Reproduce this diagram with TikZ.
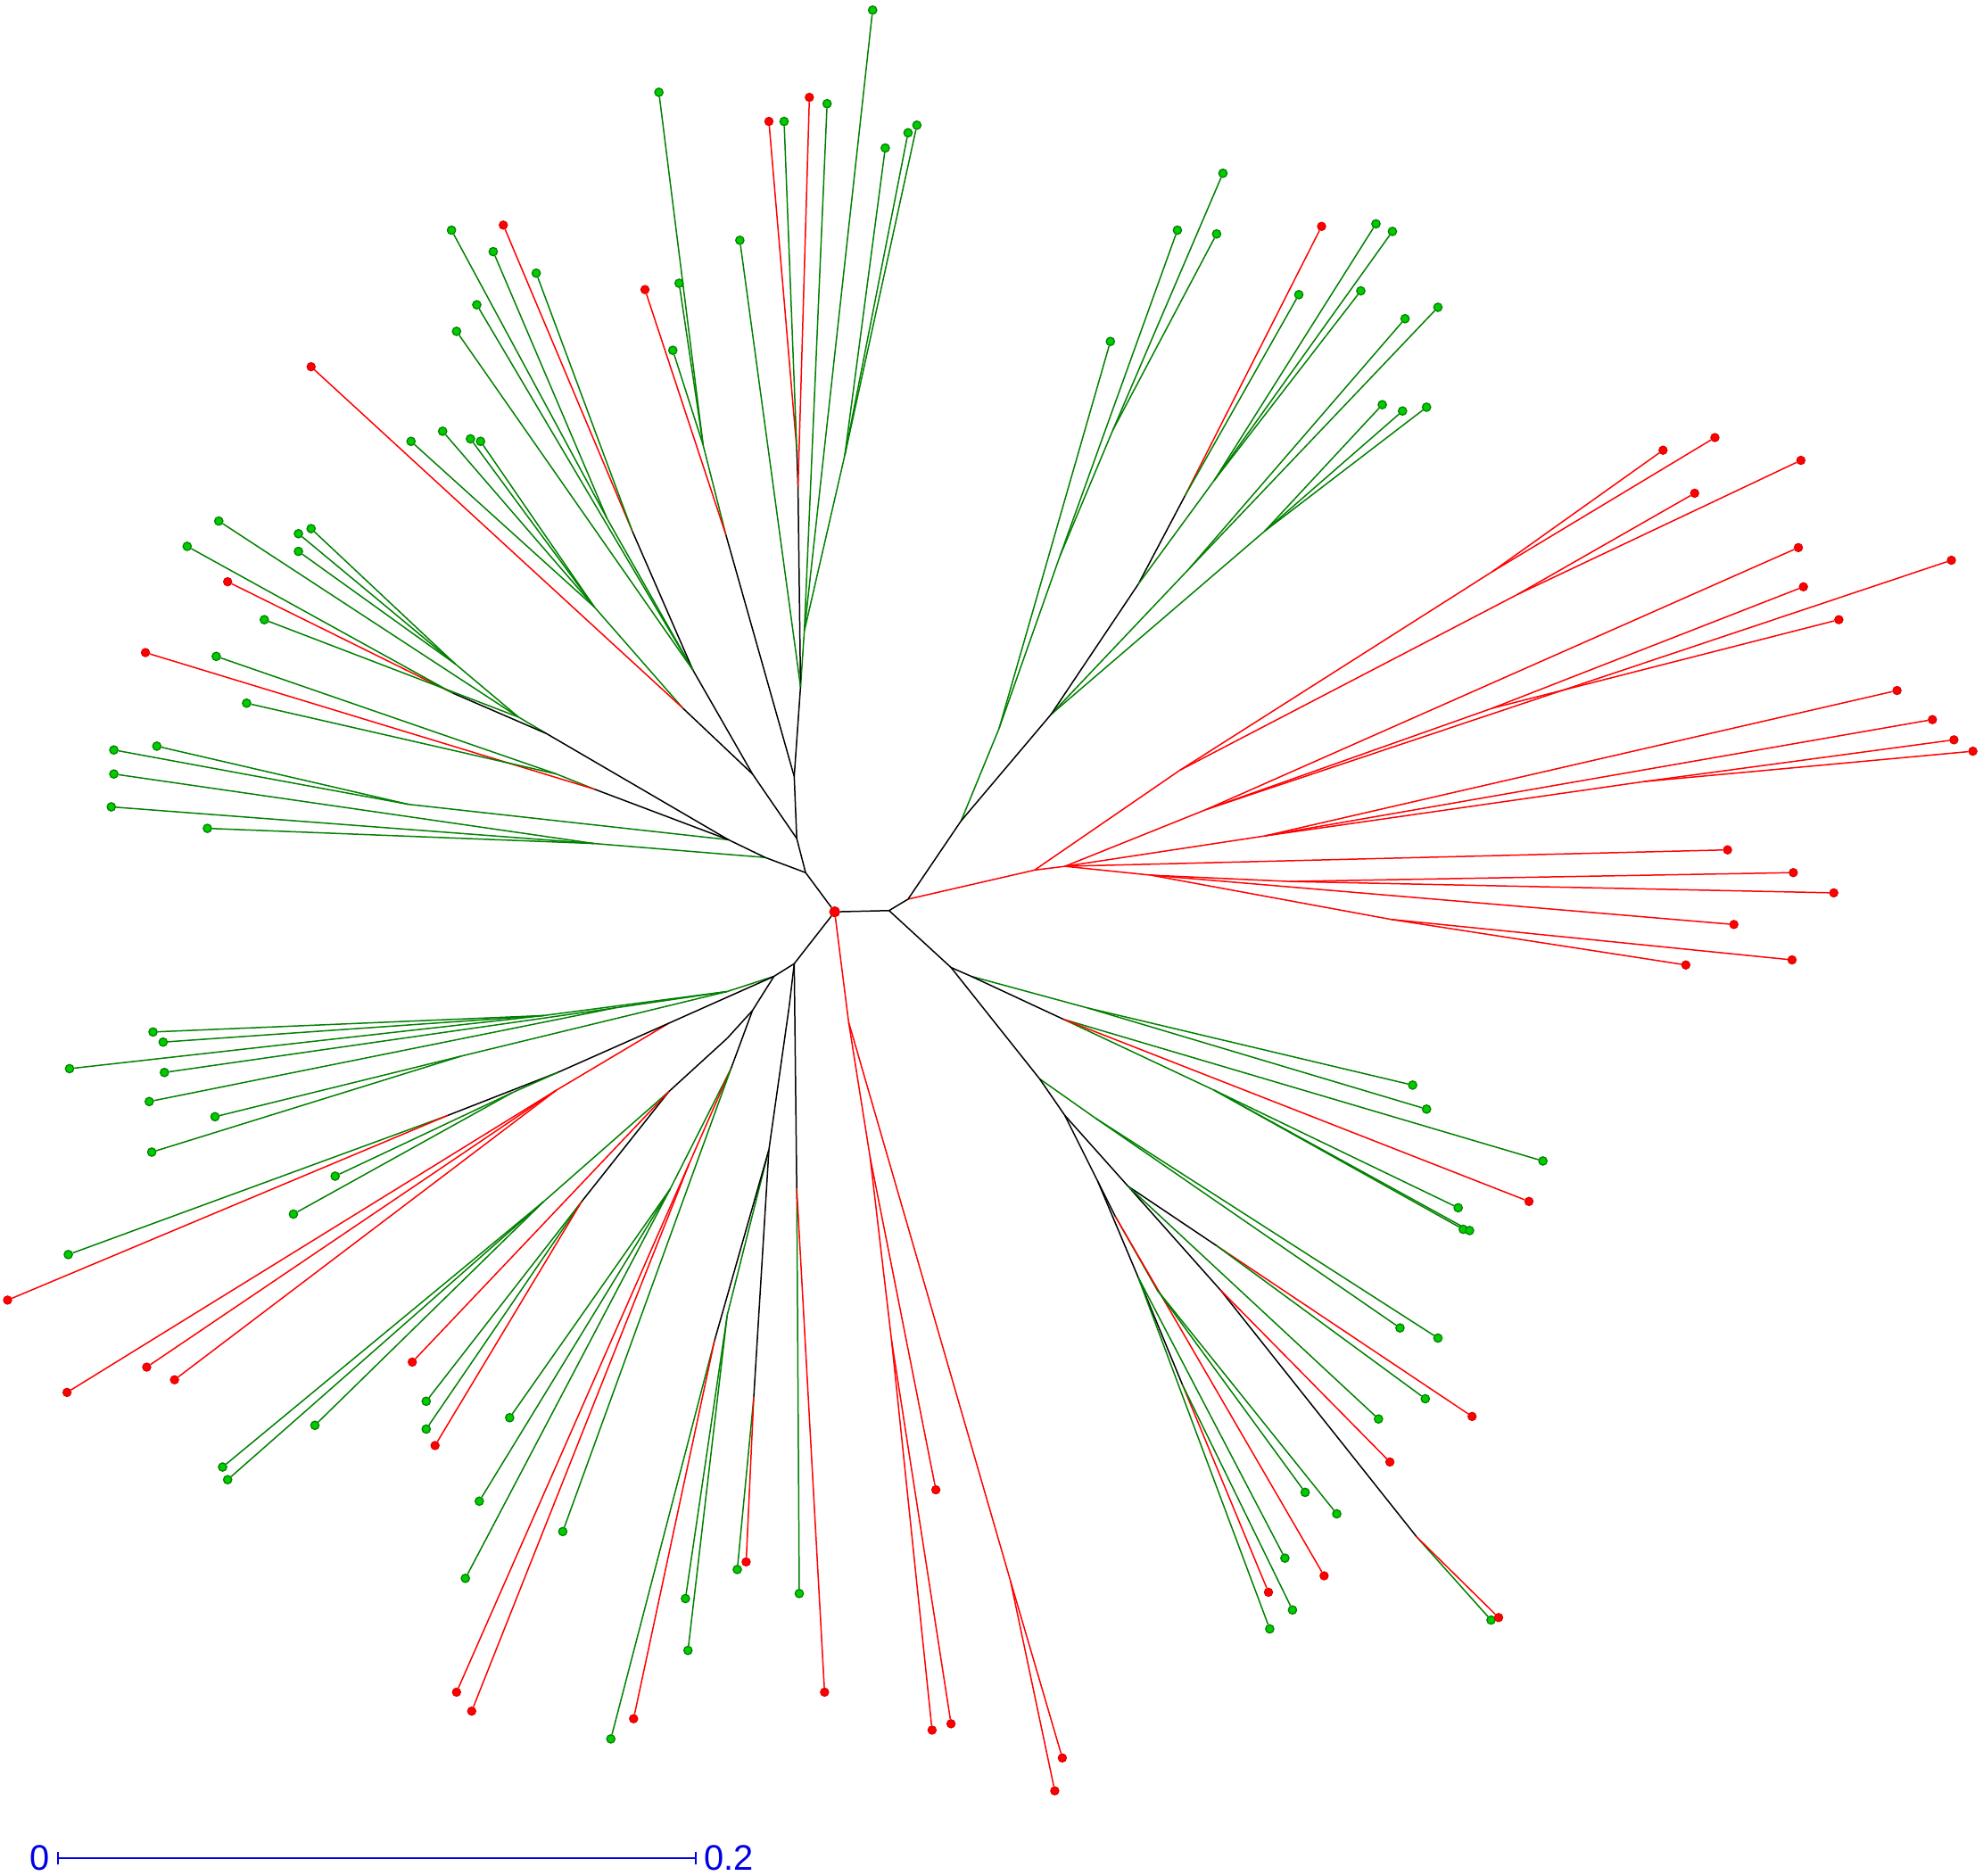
\documentclass[tikz,border=0pt]{standalone}
\usepackage{fontspec}
\setmainfont{Liberation Sans}
\definecolor{lg}{RGB}{0,128,0}
\definecolor{dg}{RGB}{0,204,0}
\definecolor{rr}{RGB}{255,0,0}
\definecolor{sb}{RGB}{0,0,230}
\pgfdeclarelayer{bg}
\pgfsetlayers{bg,main}
\tikzset{
 lineb/.style={draw=black,line width=0.3pt},
 lineg/.style={draw=lg,line width=0.3pt},
 liner/.style={draw=rr,line width=0.3pt},
 dotg/.style={circle,fill=dg,draw=lg,line width=0.25pt,inner sep=0pt,minimum size=0.66mm},
 dotr/.style={circle,fill=rr,draw=rr!85!black,line width=0.2pt,inner sep=0pt,minimum size=0.66mm},
 sbar/.style={draw=sb,line width=0.35pt},
 sbtext/.style={text=sb,font=\fontsize{8}{9}\selectfont,inner sep=0pt},
}
\begin{document}
\begin{tikzpicture}[x=0.1mm,y=-0.1mm]
\useasboundingbox (0,0) rectangle (1568,1483);
\foreach \n/\x/\y in {C1/703/720, C2/718/711, C3/752/765, UL/637/690, DL/628/762,
 R1/818/688, A1/933/609, A2/1180/452, A3/1200/470, R2/842/685, B1/954/640, B2/1180/560,
 Cr1/1000/661, Cr2/1300/618, E1/910/692, D1/1020/697, E2/1100/727,
 G1/760/649, G2/790/576, G3/838/440, G4/880/340, G5/831/565, G6/940/450, G7/1000/420,
 G8/900/462, G9/937/392, G10/960/380,
 L1/768/772, L1a/860/797, L2/841/806, L2b/960/862, L3/822/853, L3a/866/884, L4/842/882,
 L6/892/938, L6a/962/985, L9/965/1020, L7/1120/1215, L5/868/934, L11/882/962, L10/915/1020,
 L12/900/1010, L12a/935/1095,
 BR1/671/808, Bn1/799/1250, Bn2/688/915, Bn3/705/1060,
 UL1/630/663, T0/628/614, T1/574/423, T1a/556/352, T2/633/543, T3/636/499, T3a/668/360,
 T4/631/385, T4a/630/355,
 UL2/595/612, UL2a/548/530, UL2d/480/410, UL2e/500/420, UL2b/540/560, UL2c/470/480,
 Lf0/605/678, Lf1/470/667, Lf1b/323/636, Lf2/576/664, Lf3/470/624, Lf3a/440/612,
 Lf4/432/580, Lf4a/410/567, Lf4b/360/525, Lf5/358/548,
 DL1/612/772, W0/575/784, W1/430/803, W2/365/835, W3/486/797, X0/529/809, Xr1/440/862, X1/441/848,
 X2/354/882, X3/405/864,
 DL2/595/799, Y1/575/821, Y2/529/863, Y4/430/950, Y5/460/950, Y6/578/845, Y7/530/940, Y8/545/920,
 DZ0/624/796, DZ3/608/909, DZ2/596/1105, DZ4/575/1040, DZ5/565/1060, DZ1/630/940}
 \coordinate (\n) at (\x,\y);
\node[dotr,minimum size=0.8mm] (R) at (660,721) {};
\def\leaves{a1/A2/1315/356/r, a2/A2/1356/346/r, a3/A3/1424/364/r, a4/A3/1340/390/r,
 a5/B1/1422/433/r, a6/B1/1543/443/r, a7/B2/1426/464/r, a8/B2/1454/490/r,
 a9/Cr1/1500/546/r, a10/Cr1/1528/569/r, a11/Cr2/1545/585/r, a12/Cr2/1560/594/r,
 a13/R2/1366/672/r, a14/D1/1418/690/r, a15/D1/1450/706/r, a16/E1/1371/731/r, a17/E2/1333/763/r, a18/E2/1417/759/r,
 b1/G2/878/270/g, b2/G3/931/182/g, b3/G4/962/185/g, b4/G4/967/137/g,
 b5/G6/1137/243/g, b6/G6/1111/252/g, b7/G7/1093/320/g, b8/G7/1109/325/g, b9/G7/1128/322/g,
 b10/G9/1045/179/r, b11/G9/1027/233/g, b12/G10/1088/177/g, b13/G10/1101/183/g, b14/G10/1076/230/g,
 c1/L1a/1117/858/g, c2/L1a/1128/877/g, c3/L2/1220/918/g, c4/L2/1209/950/r, c5/L2b/1153/955/g, c6/L2b/1157/972/g, c7/L2b/1162/973/g,
 c8/L3a/1107/1050/g, c9/L3a/1137/1058/g, c10/L6a/1164/1120/r, c11/L6a/1127/1106/g, c12/L6/1090/1122/g,
 c13/L9/1099/1156/r, c14/L7/1179/1281/g, c15/L7/1185/1279/r,
 c16/L11/1047/1246/r, c17/L10/1032/1180/g, c18/L10/1057/1197/g, c19/L12/1016/1232/g, c20/L12/1004/1288/g,
 c21/L12a/1003/1259/r, c22/L12a/1022/1273/g,
 d1/Bn1/840/1390/r, d2/Bn1/834/1416/r, d3/Bn2/740/1178/r, d4/Bn3/752/1363/r, d5/Bn3/737/1368/r,
 e1/T1/510/229/r, e2/T1a/521/73/g, e3/T1a/537/224/g, e4/T1a/532/277/g, e5/T2/585/190/g, e6/T3/654/82/g,
 e7/T3/690/8/g, e8/T3a/700/117/g, e9/T3a/718/105/g, e10/T3a/725/99/g, e11/T4/640/77/r, e12/T4a/608/96/r, e13/T4a/620/96/g,
 f1/UL2d/357/182/g, f2/UL2d/390/199/g, f3/UL2a/377/241/g, f4/UL2a/361/262/g, f5/UL2e/398/178/r, f6/UL2e/424/216/g,
 f7/UL2b/246/290/r, f8/UL2c/325/349/g, f9/UL2c/350/341/g, f10/UL2c/372/347/g, f11/UL2c/380/349/g,
 h1/Lf1/88/638/g, h2/Lf1/164/655/g, h3/Lf1/90/612/g, h4/Lf1b/90/593/g, h5/Lf1b/124/590/g, h6/Lf3/115/516/r,
 h7/Lf3a/171/519/g, h8/Lf3a/195/556/g, h9/Lf5/180/460/r, h10/Lf4a/173/412/g, h11/Lf5/148/432/g, h12/Lf4a/209/490/g,
 h13/Lf4b/246/418/g, h14/Lf4b/236/422/g, h15/Lf4b/236/436/g,
 k1/W1/121/816/g, k2/W1/129/824/g, k3/W1/55/845/g, k4/W3/130/848/g, k5/W3/118/871/g, k6/W2/170/883/g, k7/W2/120/911/g,
 k8/X3/232/960/g, k9/X3/265/930/g, k10/X2/54/992/g, k11/X2/6/1028/r, k12/Xr1/53/1101/r, k13/Xr1/116/1081/r, k14/Xr1/138/1091/r,
 m1/Y2/326/1077/r, m2/Y5/337/1108/g, m3/Y5/337/1130/g, m4/Y5/344/1143/r, m5/Y4/249/1127/g, m6/Y4/176/1160/g, m7/Y4/180/1170/g,
 m8/Y7/403/1121/g, m9/Y7/379/1187/g, m10/Y7/368/1248/g, m11/Y6/445/1211/g, m12/Y8/361/1338/r, m13/Y8/373/1353/r,
 n1/DZ1/632/1260/g, n2/DZ1/652/1338/r, n3/DZ2/583/1241/g, n4/DZ2/590/1235/r, n5/DZ4/542/1264/g, n6/DZ4/544/1305/g,
 n7/DZ5/483/1375/g, n8/DZ5/501/1359/r}
\foreach \n/\p/\x/\y/\c in \leaves {\node[dot\c] (\n) at (\x,\y) {};}
\begin{pgfonlayer}{bg}
\foreach \a/\b/\c in {R/C1/b, C1/C2/b, C1/C3/b, R/UL/b, R/DL/b,
 C2/R1/r, R1/A1/r, A1/A2/r, A1/A3/r, R1/R2/r, R2/B1/r, B1/B2/r, R2/Cr1/r, Cr1/Cr2/r, R2/E1/r, E1/D1/r, E1/E2/r,
 C2/G1/b, G1/G2/g, G2/G3/g, G3/G4/g, G1/G5/b, G5/G6/g, G5/G7/g, G5/G8/b, G8/G9/b, G8/G10/g,
 C3/L1/b, L1/L1a/g, L1/L2/b, L2/L2b/g, C3/L3/b, L3/L3a/g, L3/L4/b, L4/L6/b, L6/L6a/b, L6/L9/b, L9/L7/b,
 L4/L5/b, L5/L11/b, L11/L10/g, L5/L12/b, L12/L12a/b,
 R/BR1/r, BR1/Bn1/r, BR1/Bn2/r, Bn2/Bn3/r,
 UL/UL1/b, UL1/T0/b, T0/T1/b, T1/T1a/g, T0/T2/b, T2/T3/g, T3/T3a/g, T2/T4/b, T4/T4a/b,
 UL1/UL2/b, UL2/UL2a/b, UL2a/UL2d/g, UL2a/UL2e/b, UL2/UL2b/b, UL2b/UL2c/g,
 UL/Lf0/b, Lf0/Lf1/g, Lf2/Lf1b/g, Lf0/Lf2/b, Lf2/Lf3/b, Lf3/Lf3a/g, Lf2/Lf4/b, Lf4/Lf4a/g, Lf4a/Lf4b/g, Lf4/Lf5/b,
 DL/DL1/b, DL1/W0/g, W0/W1/g, W0/W2/g, W0/W3/g, DL1/X0/b, X0/Xr1/r, X0/X1/b, X1/X2/b, X1/X3/g,
 DL1/DL2/b, DL2/Y1/b, Y1/Y2/b, Y2/Y4/g, Y2/Y5/b, DL2/Y6/b, Y6/Y7/g, Y6/Y8/r,
 DL/DZ0/b, DZ0/DZ3/b, DZ3/DZ2/b, DZ3/DZ4/g, DZ3/DZ5/b, DL/DZ1/b}
 \draw[line\c] (\a) -- (\b);
\foreach \n/\p/\x/\y/\c in \leaves {\draw[line\c] (\p) -- (\n);}
\end{pgfonlayer}
\coordinate (s0) at (46,1469);
\coordinate (s1) at (550,1469);
\draw[sbar] (s0) -- (s1);
\draw[sbar] ([yshift=0.5mm]s0) -- ([yshift=-0.5mm]s0);
\draw[sbar] ([yshift=0.5mm]s1) -- ([yshift=-0.5mm]s1);
\node[sbtext,anchor=east] (t0) at (40,1469) {0};
\node[sbtext,anchor=west] (t1) at (556,1469) {0.2};
\end{tikzpicture}
\end{document}
